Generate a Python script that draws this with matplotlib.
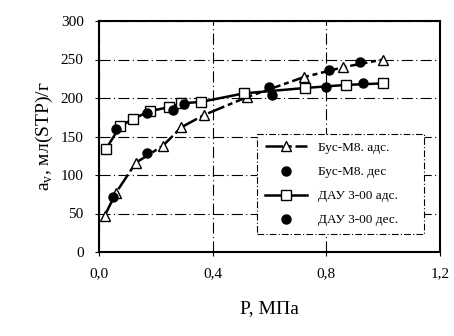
import matplotlib.pyplot as plt
from matplotlib.ticker import FuncFormatter

plt.rcParams['font.family'] = ['Liberation Serif', 'DejaVu Serif']
plt.rcParams['mathtext.fontset'] = 'custom'
plt.rcParams['mathtext.rm'] = 'Liberation Serif'

# Бус-М8 adsorption / desorption
bus_ads_p = [0.02, 0.06, 0.13, 0.225, 0.29, 0.37, 0.52, 0.72, 0.86, 1.0]
bus_ads_a = [47, 77, 116, 138, 162, 178, 201, 227, 240, 250]
bus_des_p = [0.05, 0.17, 0.26, 0.6, 0.81, 0.92]
bus_des_a = [72, 128, 184, 214, 237, 247]

# ДАУ 3-00 adsorption / desorption
dau_ads_p = [0.025, 0.074, 0.12, 0.18, 0.245, 0.29, 0.36, 0.51, 0.725, 0.87, 1.0]
dau_ads_a = [134, 163, 173, 183, 188, 193, 195, 206, 213, 217, 219]
dau_des_p = [0.06, 0.17, 0.3, 0.61, 0.8, 0.93]
dau_des_a = [160, 180, 192, 204, 214, 219]

x_ticks = [0.0, 0.4, 0.8, 1.2]
y_ticks = [0, 50, 100, 150, 200, 250, 300]

fig = plt.figure(figsize=(4.54, 3.36), dpi=100)
ax = fig.add_axes([0.218, 0.25, 0.751, 0.6875])

ax.plot(bus_ads_p, bus_ads_a, color='black', lw=1.8, linestyle=(0, (7, 1.5, 2, 1.5)),
        marker='^', markersize=7, markerfacecolor='white', markeredgecolor='black',
        label='Бус-М8. адс.', zorder=3)
ax.plot(bus_des_p, bus_des_a, linestyle='none', marker='o', markersize=6.5,
        color='black', label='Бус-М8. дес', zorder=4)
ax.plot(dau_ads_p, dau_ads_a, color='black', lw=1.8, marker='s', markersize=6.5,
        markerfacecolor='white', markeredgecolor='black',
        label='ДАУ 3-00 адс.', zorder=3)
ax.plot(dau_des_p, dau_des_a, linestyle='none', marker='o', markersize=6.5,
        color='black', label='ДАУ 3-00 дес.', zorder=4)

ax.set_xlim(0, 1.2)
ax.set_ylim(0, 300)
ax.set_xticks(x_ticks)
ax.set_yticks(y_ticks)
ax.xaxis.set_major_formatter(FuncFormatter(lambda v, p: f'{v:.1f}'.replace('.', ',')))
ax.tick_params(labelsize=11, length=3, width=0.8, direction='out', pad=8)
ax.grid(True, color='black', lw=0.8, linestyle=(0, (10, 3, 1, 3)))

for s in ax.spines.values():
    s.set_linewidth(1.5)

ax.set_xlabel('P, МПа', fontsize=14, labelpad=14)
ax.set_ylabel(r'a$_\mathrm{v}$, мл(STP)/г', fontsize=14, labelpad=4)

leg = ax.legend(loc='upper left', fontsize=9.5, frameon=True, fancybox=False,
                handlelength=3.2, borderpad=0.6, labelspacing=0.9,
                bbox_to_anchor=(0.463, 0.091, 0.49, 0.42), mode='expand',
                borderaxespad=0, framealpha=1)
leg.get_frame().set_edgecolor('black')
leg.get_frame().set_linestyle((0, (6, 2, 1, 2)))
leg.get_frame().set_linewidth(0.8)

fig.savefig('out.png', dpi=100)
